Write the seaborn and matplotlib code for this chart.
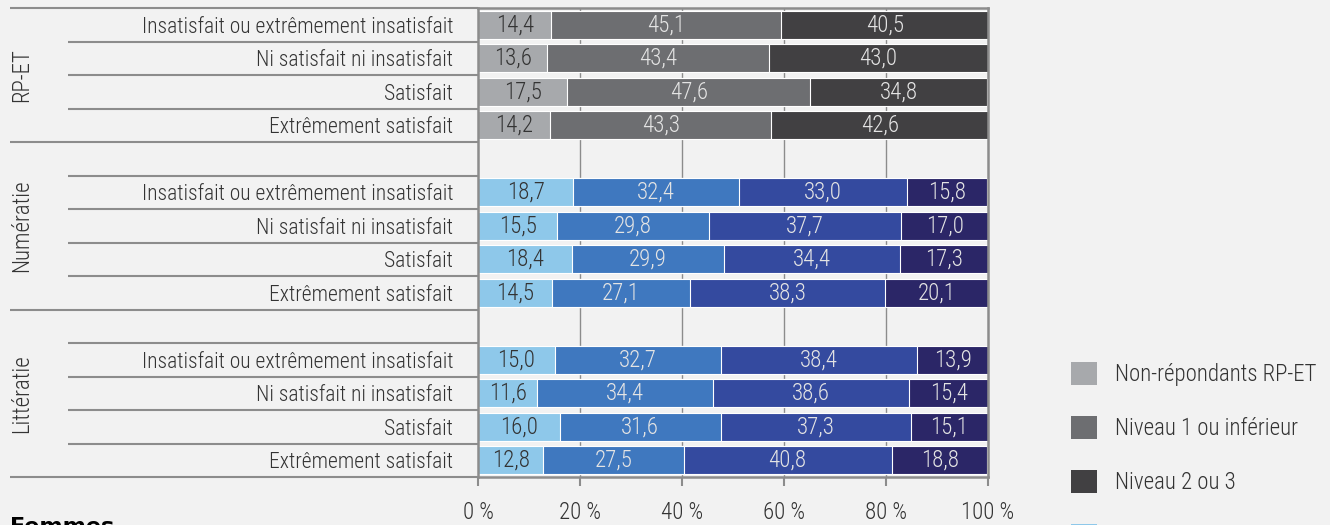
import numpy as np
import pandas as pd
import matplotlib
matplotlib.use("Agg")
import matplotlib.pyplot as plt
import matplotlib.transforms as mtransforms
from matplotlib.patches import Patch
from matplotlib import font_manager as fm
import seaborn as sns

# ---------------- data ----------------
groups = ["RP-ET", "Numératie", "Littératie"]
satisfaction = ["Insatisfait ou extrêmement insatisfait",
                "Ni satisfait ni insatisfait",
                "Satisfait",
                "Extrêmement satisfait"]

rpet_nonrep = [14.4, 13.6, 17.5, 14.2]
rpet_niv1 = [45.1, 43.4, 47.6, 43.3]
rpet_niv23 = [40.5, 43.0, 34.8, 42.6]

num_nonrep = [18.7, 15.5, 18.4, 14.5]
num_niv1 = [32.4, 29.8, 29.9, 27.1]
num_niv2 = [33.0, 37.7, 34.4, 38.3]
num_niv3 = [15.8, 17.0, 17.3, 20.1]

lit_nonrep = [15.0, 11.6, 16.0, 12.8]
lit_niv1 = [32.7, 34.4, 31.6, 27.5]
lit_niv2 = [38.4, 38.6, 37.3, 40.8]
lit_niv3 = [13.9, 15.4, 15.1, 18.8]

x_ticks = [0, 20, 40, 60, 80, 100]
x_tick_labels = ["0 %", "20 %", "40 %", "60 %", "80 %", "100 %"]
legend_labels = ["Non-répondants RP-ET", "Niveau 1 ou inférieur", "Niveau 2 ou 3",
                 "Non-répondants"]
footer_label = "Femmes"

# ---------------- style ----------------
grey_colors = ["#a7a9ac", "#6d6e71", "#414042"]
blue_colors = ["#8ec8ea", "#3f78bf", "#344a9f", "#2b2667"]
bg = "#f2f2f2"
line_col = "#8c8c8c"
text_col = "#333333"
light_text = "#e4e4e4"

sns.set_theme(style="white")
available = {f.name for f in fm.fontManager.ttflist}
family = []
for cand in ["Roboto Condensed", "Liberation Sans Narrow", "DejaVu Sans Condensed"]:
    if cand in available:
        family.append(cand)
family += ["Liberation Sans", "DejaVu Sans"]
plt.rcParams["font.family"] = family
plt.rcParams["font.weight"] = "light"

FS = 15.5
VFS = 16.5

fig = plt.figure(figsize=(13.3, 5.25), dpi=100, facecolor=bg)
ax = fig.add_axes([478 / 1330, 1 - 477 / 525, 510 / 1330, 469 / 525])
ax.set_facecolor(bg)

segments = [
    ("RP-ET", [rpet_nonrep, rpet_niv1, rpet_niv23], grey_colors),
    ("Numératie", [num_nonrep, num_niv1, num_niv2, num_niv3], blue_colors),
    ("Littératie", [lit_nonrep, lit_niv1, lit_niv2, lit_niv3], blue_colors),
]

order = []
for gi, g in enumerate(groups):
    if gi > 0:
        order.append(f"{g}|gap")
    for s in satisfaction:
        order.append(f"{g}|{s}")

for g, series, cols in segments:
    rows = [f"{g}|{s}" for s in satisfaction]
    arr = np.array(series)
    cum = np.cumsum(arr, axis=0)
    df = pd.DataFrame({"row": rows})
    for k in range(len(series)):
        df[f"cum{k}"] = cum[k]
    # draw from the outermost cumulative value inward
    for k in range(len(series) - 1, -1, -1):
        sns.barplot(data=df, x=f"cum{k}", y="row", order=order, color=cols[k],
                    orient="h", width=0.84, edgecolor="white", linewidth=0.8,
                    saturation=1, ax=ax)
    # value labels
    starts = np.vstack([np.zeros(len(rows)), cum[:-1]])
    for k in range(len(series)):
        for i, r in enumerate(rows):
            yi = order.index(r)
            xc = starts[k][i] + arr[k][i] / 2
            ax.text(xc, yi, f"{arr[k][i]:.1f}".replace(".", ","), ha="center",
                    va="center", fontsize=VFS, fontweight="light",
                    color=text_col if k == 0 else light_text)

ax.set_xlim(0, 100)
ax.set_ylim(len(order) - 0.5, -0.5)
ax.set_xlabel("")
ax.set_ylabel("")
ax.set_axisbelow(True)
for xv in x_ticks[1:-1]:
    ax.axvline(xv, color=line_col, lw=1.0, zorder=0)

ax.set_xticks(x_ticks)
ax.set_xticklabels(x_tick_labels, fontweight="light")
ax.tick_params(axis="x", which="both", bottom=True, length=6.5, width=1.5,
               color=line_col, pad=10.5, labelsize=16.5, labelcolor=text_col)

ax.set_yticks(range(len(order)))
ax.set_yticklabels([("" if o.endswith("|gap") else o.split("|")[1]) for o in order],
                   fontweight="light")
ax.tick_params(axis="y", length=0, pad=18, labelsize=FS, labelcolor=text_col)

for sp in ax.spines.values():
    sp.set_visible(True)
    sp.set_color(line_col)
    sp.set_linewidth(1.8)

# row separators extending into the label area
trans = mtransforms.blended_transform_factory(ax.transAxes, ax.transData)
group_bounds = {-0.5, 3.5, 8.5, 13.5}
for b in np.arange(-0.5, len(order), 1.0):
    x0 = -0.918 if b in group_bounds else -0.804
    ax.plot([x0, 0], [b, b], transform=trans, color=line_col, lw=1.5,
            clip_on=False, solid_capstyle="butt")

# group labels
group_centers = [1.5, 6.0, 11.0]
for g, yc in zip(groups, group_centers):
    ax.text(-0.894, yc, g, transform=trans, rotation=90, ha="center", va="center",
            fontsize=16.5, fontweight="light", color=text_col)

# legend
leg_colors = [grey_colors[0], grey_colors[1], grey_colors[2], blue_colors[0]]
handles = [Patch(facecolor=c, edgecolor="none") for c in leg_colors]
fig.legend(handles, legend_labels, loc="upper left",
           bbox_to_anchor=(1071 / 1330, 1 - 362 / 525), frameon=False,
           prop={"size": 16.5, "weight": "light"}, labelcolor=text_col,
           handlelength=1.15, handleheight=1.15,
           handletextpad=0.75, labelspacing=1.30, borderpad=0, borderaxespad=0)

fig.text(10 / 1330, 1 - 517 / 525, footer_label, ha="left", va="top",
         fontsize=16, fontweight="bold", color="black",
         family=["DejaVu Sans"])

fig.savefig("out.png", dpi=100, facecolor=bg)
